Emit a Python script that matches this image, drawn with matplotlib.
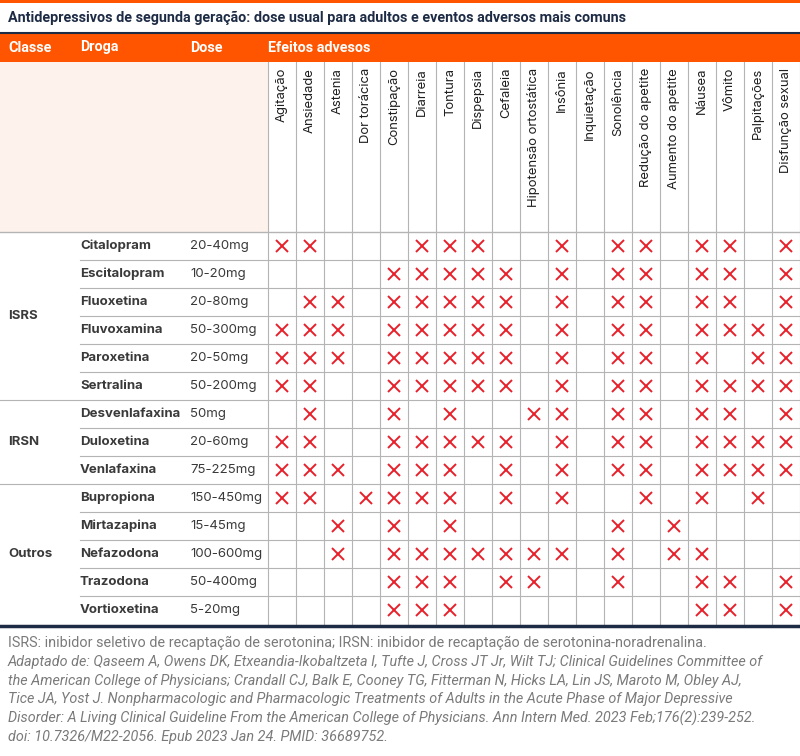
import matplotlib.pyplot as plt
from matplotlib.patches import Rectangle

# data
title = "Antidepressivos de segunda geração: dose usual para adultos e eventos adversos mais comuns"
header = ["Classe", "Droga", "Dose", "Efeitos advesos"]

classes = ["ISRS", "IRSN", "Outros"]
class_sizes = [6, 3, 5]

drugs = ["Citalopram", "Escitalopram", "Fluoxetina", "Fluvoxamina", "Paroxetina", "Sertralina",
         "Desvenlafaxina", "Duloxetina", "Venlafaxina",
         "Bupropiona", "Mirtazapina", "Nefazodona", "Trazodona", "Vortioxetina"]
doses = ["20-40mg", "10-20mg", "20-80mg", "50-300mg", "20-50mg", "50-200mg",
         "50mg", "20-60mg", "75-225mg",
         "150-450mg", "15-45mg", "100-600mg", "50-400mg", "5-20mg"]

effects = ["Agitação", "Ansiedade", "Astenia", "Dor torácica", "Constipação", "Diarreia",
           "Tontura", "Dispepsia", "Cefaleia", "Hipotensão ortostática", "Insônia",
           "Inquietação", "Sonolência", "Redução do apetite", "Aumento do apetite",
           "Náusea", "Vômito", "Palpitações", "Disfunção sexual"]

# index of effects marked with an X, one list per drug
marks = [
    [0, 1, 5, 6, 7, 10, 12, 13, 15, 16, 18],
    [4, 5, 6, 7, 8, 10, 12, 13, 15, 16, 18],
    [1, 2, 4, 5, 6, 7, 8, 10, 12, 13, 15, 16, 18],
    [0, 1, 2, 4, 5, 6, 7, 8, 10, 12, 13, 15, 16, 17, 18],
    [0, 1, 2, 4, 5, 6, 7, 8, 10, 12, 13, 15, 17, 18],
    [0, 1, 4, 5, 6, 7, 8, 10, 12, 13, 15, 16, 17, 18],
    [1, 4, 6, 9, 10, 12, 13, 15, 16, 18],
    [0, 1, 4, 5, 6, 7, 8, 10, 12, 13, 15, 16, 17, 18],
    [0, 1, 2, 4, 5, 6, 8, 10, 12, 13, 15, 16, 17, 18],
    [0, 1, 3, 4, 5, 6, 8, 10, 13, 15, 17],
    [2, 4, 6, 12, 14],
    [2, 4, 5, 6, 7, 8, 9, 10, 12, 14, 15],
    [4, 5, 6, 8, 9, 12, 15, 16, 18],
    [4, 5, 6, 15, 16, 18],
]

footnote = [
    "ISRS: inibidor seletivo de recaptação de serotonina; IRSN: inibidor de recaptação de serotonina-noradrenalina.",
    "Adaptado de: Qaseem A, Owens DK, Etxeandia-Ikobaltzeta I, Tufte J, Cross JT Jr, Wilt TJ; Clinical Guidelines Committee of",
    "the American College of Physicians; Crandall CJ, Balk E, Cooney TG, Fitterman N, Hicks LA, Lin JS, Maroto M, Obley AJ,",
    "Tice JA, Yost J. Nonpharmacologic and Pharmacologic Treatments of Adults in the Acute Phase of Major Depressive",
    "Disorder: A Living Clinical Guideline From the American College of Physicians. Ann Intern Med. 2023 Feb;176(2):239-252.",
    "doi: 10.7326/M22-2056. Epub 2023 Jan 24. PMID: 36689752.",
]

# style
orange = "#ff5400"
navy = "#1d2b45"
peach = "#fef2ec"
grid = "#b4b4b4"
red = "#e8202a"
text_col = "#3a3a3a"

W, H = 800, 756
x_cls, x_drug, x_dose, x_eff = 8, 80, 190, 268
col_w = 28
y_row0, row_h = 232, 28
n_rows = len(drugs)
y_end = y_row0 + n_rows * row_h

fig = plt.figure(figsize=(W / 100, H / 100), dpi=100)
ax = fig.add_axes([0, 0, 1, 1])
ax.set_xlim(0, W)
ax.set_ylim(H, 0)
ax.axis("off")

# top stripe, title, header band
ax.add_patch(Rectangle((0, 0), W, 3, color=orange, lw=0))
ax.text(x_cls, 18, title, fontsize=10.4, fontweight="bold", family="Roboto",
        color=navy, va="center")
ax.plot([0, W], [32.5, 32.5], color=navy, lw=1.5)
ax.add_patch(Rectangle((0, 33), W, 29, color=orange, lw=0))
for x, h in zip([x_cls, x_drug, x_dose, x_eff], header):
    ax.text(x, 47.5, h, fontsize=10.4, fontweight="bold", family="Roboto",
            color="white", va="center")

# effect column header area
ax.add_patch(Rectangle((0, 62), x_eff, y_row0 - 62, color=peach, lw=0))
for k, name in enumerate(effects):
    ax.text(x_eff + (k + 0.5) * col_w, 68, name, rotation=90, fontsize=9.4,
            family="Inter", color="#1e1e1e", ha="center", va="top")

# grid
for k in range(len(effects) + 1):
    xv = x_eff + k * col_w
    ax.plot([xv, xv], [62, y_end], color=grid, lw=0.8)
ax.plot([0, W], [y_row0, y_row0], color=grid, lw=1.0)

bounds = []
acc = 0
for s in class_sizes:
    acc += s
    bounds.append(acc)
for i in range(1, n_rows):
    y = y_row0 + i * row_h
    x0 = 0 if i in bounds else x_drug
    ax.plot([x0, W], [y, y], color=grid, lw=0.8)
ax.plot([0, W], [y_end + 1.5, y_end + 1.5], color=navy, lw=2.5)

# class labels
start = 0
for c, s in zip(classes, class_sizes):
    yc = y_row0 + (start + s / 2) * row_h
    ax.text(x_cls, yc, c, fontsize=9.5, fontweight="bold", family="Inter",
            color=text_col, va="center")
    start += s

# drug rows
for i, (d, ds, m) in enumerate(zip(drugs, doses, marks)):
    yc = y_row0 + (i + 0.5) * row_h
    ax.text(x_drug, yc, d, fontsize=9.5, fontweight="bold", family="Inter",
            color=text_col, va="center")
    ax.text(x_dose, yc, ds, fontsize=9.5, family="Inter", color=text_col, va="center")
    xs = [x_eff + (k + 0.5) * col_w for k in m]
    ax.plot(xs, [yc] * len(xs), "x", color=red, ms=9, mew=1.4)

# footnote
for j, line in enumerate(footnote):
    ax.text(x_cls, 643 + j * 18.8, line, fontsize=10.35, family="Roboto",
            style="normal" if j == 0 else "italic",
            color="#7a7a7a", va="center")

fig.savefig("out.png", dpi=100)
